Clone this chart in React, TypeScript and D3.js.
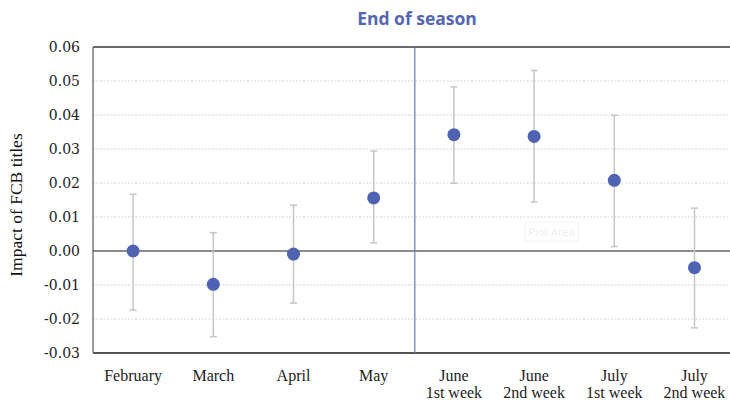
import React from "react";
import * as d3 from "d3";

const categories = ["February", "March", "April", "May", "June1", "June2", "July1", "July2"];
const labelLine1 = ["February", "March", "April", "May", "June", "June", "July", "July"];
const labelLine2 = ["", "", "", "", "1st week", "2nd week", "1st week", "2nd week"];
const estimates = [0.0, -0.0098, -0.0009, 0.0156, 0.0342, 0.0337, 0.0208, -0.0049];
const upper = [0.0167, 0.0054, 0.0135, 0.0294, 0.0483, 0.0531, 0.0399, 0.0126];
const lower = [-0.0174, -0.0252, -0.0153, 0.0024, 0.0199, 0.0144, 0.0013, -0.0226];
const yTicks = [-0.03, -0.02, -0.01, 0.0, 0.01, 0.02, 0.03, 0.04, 0.05, 0.06];

const W = 730;
const H = 402;
const left = 93;
const top = 47;
const bottom = 353;
const bandW = 80.2;

export default function App() {
  const x = d3
    .scaleBand<string>()
    .domain(categories)
    .range([left, left + bandW * categories.length])
    .padding(0);
  const y = d3.scaleLinear().domain([-0.03, 0.06]).range([bottom, top]);
  const cx = (c: string) => (x(c) ?? 0) + x.bandwidth() / 2;
  const dividerX = x("June1") ?? 0;
  const right = W;
  const dotColor = "#4f63b2";
  const errColor = "#c6c6c6";
  const fmt = (t: number) => d3.format(".2f")(t).replace("\u2212", "-");

  return (
    <svg
      width={W}
      height={H}
      style={{ position: "absolute", left: 0, top: 0, background: "#fff" }}
    >
      {/* gridlines */}
      {yTicks.map((t) =>
        t === 0 || t === -0.03 || t === 0.06 ? null : (
          <line
            key={"g" + t}
            x1={left}
            x2={right}
            y1={y(t)}
            y2={y(t)}
            stroke="#d4d4d4"
            strokeWidth={1}
            strokeDasharray="2,1.5"
          />
        )
      )}
      {/* frame */}
      <line x1={left} x2={right} y1={y(0.06)} y2={y(0.06)} stroke="#3a3a3a" strokeWidth={1.5} />
      <line x1={left} x2={right} y1={y(-0.03)} y2={y(-0.03)} stroke="#1a1a1a" strokeWidth={1.5} />
      <line x1={left} x2={left} y1={y(0.06)} y2={y(-0.03)} stroke="#7a7a7a" strokeWidth={1.5} />
      <line x1={left} x2={right} y1={y(0)} y2={y(0)} stroke="#1a1a1a" strokeWidth={1.2} />
      {/* divider */}
      <line x1={dividerX + 1} x2={dividerX + 1} y1={y(0.06)} y2={y(-0.03)} stroke="#6677c4" strokeWidth={1.2} />

      {/* plot area ghost label */}
      <rect x={525} y={222} width={53} height={19} fill="none" stroke="#f3f3f3" strokeWidth={1} />
      <text x={551.5} y={236} textAnchor="middle" fontFamily="Open Sans, sans-serif" fontSize={11} fill="#eeeeee">
        Plot Area
      </text>

      {/* error bars */}
      {categories.map((c, i) => (
        <g key={"e" + c} stroke={errColor} strokeWidth={1.5}>
          <line x1={cx(c)} x2={cx(c)} y1={y(upper[i])} y2={y(lower[i])} />
          <line x1={cx(c) - 3.5} x2={cx(c) + 3.5} y1={y(upper[i])} y2={y(upper[i])} />
          <line x1={cx(c) - 3.5} x2={cx(c) + 3.5} y1={y(lower[i])} y2={y(lower[i])} />
        </g>
      ))}
      {/* points */}
      {categories.map((c, i) => (
        <circle key={"p" + c} cx={cx(c)} cy={y(estimates[i])} r={6.5} fill={dotColor} />
      ))}

      {/* y tick labels */}
      {yTicks.map((t) => (
        <text
          key={"t" + t}
          x={80}
          y={y(t)}
          dy="0.35em"
          textAnchor="end"
          fontFamily="DejaVu Serif, serif"
          fontSize={14}
          fill="#222"
        >
          {fmt(t)}
        </text>
      ))}

      {/* x labels */}
      {categories.map((c, i) => (
        <g key={"x" + c}>
          <text
            x={cx(c)}
            y={381}
            textAnchor="middle"
            fontFamily="Liberation Serif, serif"
            fontSize={16}
            fill="#222"
          >
            {labelLine1[i]}
          </text>
          {labelLine2[i] && (
            <text
              x={cx(c)}
              y={398}
              textAnchor="middle"
              fontFamily="Liberation Serif, serif"
              fontSize={16}
              fill="#222"
            >
              {labelLine2[i]}
            </text>
          )}
        </g>
      ))}

      {/* y axis title */}
      <text
        transform={`translate(22, ${(top + bottom) / 2 + 5}) rotate(-90)`}
        textAnchor="middle"
        fontFamily="Liberation Serif, serif"
        fontSize={17.5}
        fill="#111"
      >
        Impact of FCB titles
      </text>

      {/* title */}
      <text
        x={417}
        y={25}
        textAnchor="middle"
        fontFamily="Open Sans, sans-serif"
        fontWeight="bold"
        fontSize={17.5}
        fill="#5566b4"
      >
        End of season
      </text>
    </svg>
  );
}
